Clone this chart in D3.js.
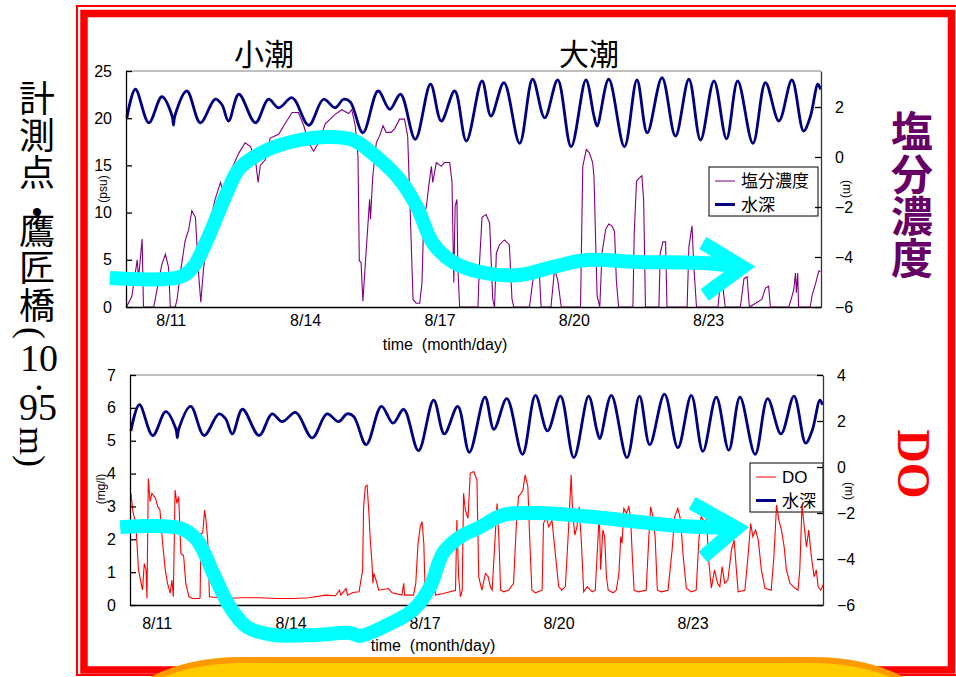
<!DOCTYPE html>
<html>
<head>
<meta charset="utf-8">
<script src="https://cdn.jsdelivr.net/npm/d3@7"></script>
<style>
  body { margin: 0; background: #fff; }
  svg { display: block; }
</style>
</head>
<body>
<svg id="chart" width="956" height="677"></svg>
<script>
// days counted from 8/10 00:00
var dayDomain = [0, 15.52];
var dayTicks = [1, 4, 7, 10, 13];
var dayLabels = ["8/11", "8/14", "8/17", "8/20", "8/23"];

var psuTicks = [0, 5, 10, 15, 20, 25];
var mgTicks = [0, 1, 2, 3, 4, 5, 6, 7];
var depthTicksTop = [-6, -4, -2, 0, 2];
var depthTicksBottom = [-6, -4, -2, 0, 2, 4];

// water depth (m) [day, value]
var depth = [[0.02,1.57],[0.21,2.71],[0.51,1.37],[0.80,2.41],[1.03,1.64],[1.06,1.28],[1.09,1.64],[1.36,2.64],
  [1.66,1.37],[1.99,2.31],[2.14,2.10],[2.29,1.44],[2.52,2.51],[2.89,1.37],[3.18,2.31],[3.41,1.97],[3.71,2.37],
  [4.08,1.27],[4.41,2.31],[4.67,1.97],[4.86,2.31],[5.01,2.20],[5.29,0.97],[5.63,2.64],[5.89,1.91],[6.13,2.51],
  [6.46,0.71],[6.80,2.91],[7.04,1.44],[7.34,2.64],[7.60,0.64],[7.95,3.04],[8.15,1.64],[8.44,2.97],[8.79,0.55],
  [9.08,3.11],[9.35,1.57],[9.64,3.08],[9.94,0.41],[10.27,3.08],[10.45,1.64],[10.52,1.24],[10.78,3.11],[11.13,0.41],
  [11.41,3.08],[11.64,0.97],[11.97,3.17],[12.27,0.84],[12.57,3.11],[12.83,0.68],[13.13,3.04],[13.41,0.73],
  [13.66,3.04],[14.00,0.55],[14.28,2.97],[14.58,1.44],[14.87,3.08],[15.13,1.04],[15.28,1.60],[15.45,2.91],[15.51,2.70]];

// salinity (psu) [day, value]
var salinity = [[0.00,0],[0.02,0.1],[0.13,1.1],[0.25,5.0],[0.28,3.0],[0.36,7.2],[0.39,0],[0.62,0],[0.73,2.8],
  [0.80,4.5],[0.88,5.6],[0.95,4.2],[0.99,0],[1.10,0],[1.14,0.8],[1.25,4.8],[1.32,7.0],[1.40,8.2],[1.47,10.2],
  [1.55,9.5],[1.62,3.6],[1.67,0.5],[1.73,4.0],[1.85,8.5],[1.99,11.4],[2.11,13.2],[2.18,12.0],[2.29,13.9],
  [2.52,16.3],[2.66,17.4],[2.78,17.0],[2.89,15.6],[2.95,13.2],[3.00,15.0],[3.11,15.6],[3.22,17.9],[3.41,18.3],
  [3.56,19.5],[3.71,20.6],[3.85,20.6],[3.97,19.2],[4.08,17.4],[4.19,16.5],[4.30,17.4],[4.45,19.4],[4.67,20.4],
  [4.82,20.9],[4.97,20.5],[5.04,20.9],[5.12,19.2],[5.18,16.0],[5.21,4.9],[5.25,4.7],[5.29,0.6],[5.36,5.7],
  [5.44,11.4],[5.46,9.3],[5.51,13.8],[5.59,17.4],[5.66,18.1],[5.74,19.2],[5.81,18.5],[5.92,18.5],[6.00,18.9],
  [6.11,19.9],[6.22,19.9],[6.29,18.1],[6.35,9.6],[6.41,0.8],[6.48,0.4],[6.56,0.4],[6.61,2.6],[6.65,9.6],
  [6.71,10.7],[6.76,12.8],[6.82,14.9],[6.85,13.2],[6.93,15.3],[7.04,14.9],[7.11,15.3],[7.23,15.3],[7.28,13.2],
  [7.32,2.6],[7.35,10.7],[7.39,11.4],[7.41,4.3],[7.45,0],[7.86,0],[7.89,4.3],[7.95,9.5],[8.04,9.8],[8.12,8.9],
  [8.19,0.8],[8.23,0],[8.27,5.7],[8.34,6.6],[8.45,7.1],[8.56,6.6],[8.62,0.8],[8.66,0],[9.01,0],[9.08,2.6],
  [9.16,4.3],[9.23,3.6],[9.27,0],[9.49,0],[9.57,4.0],[9.64,2.9],[9.72,0],[10.15,0],[10.20,14.9],[10.28,16.7],
  [10.35,16.3],[10.42,15.3],[10.45,13.9],[10.52,1.2],[10.58,0],[10.63,5.7],[10.71,8.2],[10.78,8.8],[10.85,8.6],
  [10.91,8.0],[10.95,2.8],[11.00,0],[11.32,0],[11.35,7.9],[11.40,13.3],[11.45,13.6],[11.52,13.9],[11.56,11.3],
  [11.60,0],[11.90,0],[11.93,5.7],[11.99,6.9],[12.05,6.9],[12.08,0],[12.53,0],[12.57,6.4],[12.64,8.6],[12.68,4.3],
  [12.74,0],[13.22,0],[13.26,2.0],[13.32,2.5],[13.38,0],[13.72,0],[13.80,3.0],[13.87,3.2],[13.92,0],[14.20,0.8],
  [14.28,2.0],[14.35,2.2],[14.39,0],[14.80,0],[14.87,1.1],[14.91,1.8],[14.95,3.6],[14.97,1.5],[15.00,3.6],
  [15.02,0],[15.28,0],[15.32,1.2],[15.40,2.5],[15.47,3.8],[15.51,3.8]];

// dissolved oxygen (mg/l) [day, value]
var dissolvedO2 = [[0.02,3.40],[0.07,2.80],[0.13,2.50],[0.19,1.07],[0.25,0.66],[0.28,0.46],[0.32,1.26],[0.36,1.07],
  [0.38,0.20],[0.41,3.85],[0.45,3.15],[0.49,3.40],[0.57,3.25],[0.62,3.00],[0.67,2.89],[0.73,1.88],[0.79,1.07],
  [0.84,0.66],[0.90,0.36],[0.94,0.76],[0.97,0.25],[1.01,3.50],[1.05,3.09],[1.09,3.30],[1.14,1.57],[1.20,1.50],
  [1.25,0.66],[1.32,0.25],[1.40,0.20],[1.55,0.20],[1.57,0.22],[1.59,2.17],[1.63,2.20],[1.67,2.89],[1.70,2.60],
  [1.74,2.00],[1.76,1.07],[1.78,0.25],[2.15,0.20],[2.50,0.22],[2.90,0.22],[3.30,0.20],[3.64,0.20],[4.00,0.22],
  [4.39,0.30],[4.60,0.28],[4.69,0.45],[4.72,0.30],[4.84,0.50],[4.87,0.30],[4.99,0.38],[5.13,0.40],[5.21,1.07],
  [5.23,2.94],[5.27,3.60],[5.31,3.65],[5.35,2.80],[5.38,2.00],[5.42,1.27],[5.44,0.66],[5.46,0.96],[5.51,0.76],
  [5.57,0.45],[5.79,0.50],[5.87,0.37],[6.09,0.30],[6.13,0.66],[6.15,0.30],[6.35,0.30],[6.40,0.66],[6.45,1.88],
  [6.50,2.38],[6.54,2.54],[6.58,1.88],[6.61,0.35],[6.69,0.30],[6.82,0.86],[6.84,0.30],[7.02,0.35],[7.29,0.45],
  [7.32,2.59],[7.36,0.86],[7.40,0.25],[7.44,0.45],[7.47,3.40],[7.51,2.89],[7.57,2.64],[7.62,4.01],[7.70,4.06],
  [7.77,3.80],[7.81,0.86],[7.88,0.45],[7.96,0.96],[8.02,0.86],[8.07,0.56],[8.11,0.45],[8.17,1.88],[8.22,3.09],
  [8.26,2.08],[8.30,0.45],[8.37,0.40],[8.48,0.45],[8.59,0.66],[8.65,2.38],[8.70,3.30],[8.76,3.40],[8.80,3.50],
  [8.85,3.96],[8.91,3.60],[8.95,2.08],[9.00,0.45],[9.08,0.37],[9.23,0.45],[9.26,2.48],[9.32,2.68],[9.38,2.38],
  [9.45,2.58],[9.51,1.77],[9.60,0.56],[9.67,0.45],[9.75,0.56],[9.82,2.28],[9.88,3.96],[9.91,2.89],[9.96,2.13],
  [10.01,2.38],[10.06,2.99],[10.11,1.88],[10.16,0.40],[10.24,0.56],[10.35,0.40],[10.42,0.45],[10.51,2.79],
  [10.54,1.07],[10.59,2.28],[10.63,2.08],[10.67,0.86],[10.71,0.45],[10.82,0.37],[10.89,0.45],[10.95,0.96],
  [10.99,2.08],[11.02,1.88],[11.06,2.94],[11.12,2.79],[11.17,2.99],[11.21,2.69],[11.25,1.47],[11.29,0.45],
  [11.38,0.40],[11.56,0.45],[11.62,2.08],[11.66,2.99],[11.71,2.69],[11.76,2.08],[11.81,0.45],[11.90,0.40],
  [12.05,0.45],[12.14,1.67],[12.20,2.69],[12.27,2.94],[12.33,2.59],[12.39,1.47],[12.46,0.51],[12.57,0.40],
  [12.68,0.45],[12.74,1.98],[12.79,2.69],[12.86,2.54],[12.91,2.59],[12.96,1.37],[13.02,0.51],[13.09,1.07],
  [13.16,0.66],[13.21,0.56],[13.26,1.17],[13.32,0.66],[13.39,0.76],[13.47,1.67],[13.53,1.98],[13.58,1.07],
  [13.62,0.40],[13.77,0.45],[13.84,1.47],[13.90,2.48],[13.95,2.08],[14.01,2.28],[14.07,1.98],[14.14,1.07],
  [14.22,0.51],[14.36,0.45],[14.42,1.47],[14.48,3.04],[14.53,2.59],[14.59,2.28],[14.65,1.77],[14.70,1.07],
  [14.78,0.66],[14.85,0.56],[14.96,0.45],[15.00,1.07],[15.05,3.04],[15.10,2.38],[15.15,1.77],[15.20,2.28],
  [15.26,1.47],[15.32,0.86],[15.37,1.07],[15.41,0.56],[15.47,0.45],[15.52,0.61]];

// hand drawn trend arrows, in each panel's data units [day, left-axis value]
var saltArrow = [[-0.36,3.07],[1.21,3.18],[1.50,4.24],[1.81,7.10],[2.25,12.08],[2.54,14.72],[3.15,16.63],
  [3.88,17.69],[4.55,18.01],[5.07,17.69],[5.60,15.89],[6.12,13.45],[6.50,10.59],[6.85,6.78],[7.30,4.77],
  [7.90,3.71],[8.79,3.39],[9.53,4.24],[10.29,4.98],[11.41,4.77],[12.88,4.66],[13.77,4.24]];
var saltArrowHead = [[12.88,6.78],[13.77,4.24],[12.92,1.27]];
var doArrow = [[-0.22,2.37],[1.12,2.34],[1.50,1.98],[1.86,0.97],[2.24,-0.06],[2.62,-0.67],[3.20,-0.91],
  [4.19,-0.91],[4.93,-0.85],[5.15,-0.94],[5.67,-0.67],[6.34,-0.15],[6.72,0.55],[7.01,1.58],[7.39,2.07],
  [7.84,2.37],[8.35,2.74],[9.12,2.80],[10.59,2.65],[12.09,2.43],[13.59,2.34]];
var doArrowHead = [[12.59,3.10],[13.59,2.34],[12.83,1.46]];

var sans = "'Liberation Sans', Arial, sans-serif";
var cjk = "'Noto Sans CJK JP', 'Noto Sans CJK SC', sans-serif";
var serif = "'Liberation Serif', 'DejaVu Serif', serif";

var svg = d3.select("#chart");
svg.append("rect").attr("width", 956).attr("height", 677).attr("fill", "#fff");

// red slide frame
svg.append("rect").attr("x", 77).attr("y", 6).attr("width", 890).attr("height", 669)
  .attr("fill", "none").attr("stroke", "#ff0000").attr("stroke-width", 2);
svg.append("rect").attr("x", 84).attr("y", 13.5).attr("width", 867.5).attr("height", 656.5)
  .attr("fill", "none").attr("stroke", "#ff0000").attr("stroke-width", 7.5);

function drawPanel(p) {
  var x = d3.scaleLinear().domain(dayDomain).range([p.left, p.right]);
  var yL = d3.scaleLinear().domain(p.leftDomain).range([p.bottom, p.top]);
  var yR = d3.scaleLinear().domain(p.rightDomain).range([p.bottom, p.top]);
  var g = svg.append("g");

  // top border
  g.append("line").attr("x1", p.left).attr("x2", p.right).attr("y1", p.top).attr("y2", p.top)
    .attr("stroke", "#808080").attr("stroke-width", 1);

  // legend box (series go over it)
  var lg = g.append("g").attr("transform", "translate(" + p.legend.x + "," + p.legend.y + ")");
  lg.append("rect").attr("width", p.legend.w).attr("height", 49)
    .attr("fill", "#fff").attr("stroke", "#000").attr("stroke-width", 1);
  p.legend.items.forEach(function(it, i) {
    var yy = 14 + i * 23.5;
    lg.append("line").attr("x1", 6).attr("x2", 26).attr("y1", yy).attr("y2", yy)
      .attr("stroke", it.color).attr("stroke-width", it.width);
    lg.append("text").attr("x", 32).attr("y", yy).attr("dy", "0.36em")
      .attr("font-family", it.font).attr("font-size", 17).text(it.label);
  });

  var line = d3.line().x(function(d) { return x(d[0]); });

  g.append("path").datum(p.series)
    .attr("d", line.y(function(d) { return yL(d[1]); }).curve(d3.curveLinear))
    .attr("fill", "none").attr("stroke", p.seriesColor).attr("stroke-width", 1.1);

  g.append("path").datum(depth)
    .attr("d", line.y(function(d) { return yR(d[1]); }).curve(d3.curveCatmullRom))
    .attr("fill", "none").attr("stroke", "#000080").attr("stroke-width", 2.8)
    .attr("stroke-linejoin", "round");

  var ax = g.append("g").attr("transform", "translate(" + p.left + ",0)")
    .call(d3.axisLeft(yL).tickValues(p.leftTicks).tickFormat(d3.format("d"))
      .tickSizeInner(-6).tickSizeOuter(0).tickPadding(14));
  var ar = g.append("g").attr("transform", "translate(" + p.right + ",0)")
    .call(d3.axisRight(yR).tickValues(p.rightTicks).tickFormat(d3.format("d"))
      .tickSizeInner(-6).tickSizeOuter(0).tickPadding(14));
  var ab = g.append("g").attr("transform", "translate(0," + p.bottom + ")")
    .call(d3.axisBottom(x).tickValues(dayTicks).tickFormat(function(d, i) { return dayLabels[i]; })
      .tickSize(0).tickPadding(p.xPad));
  ab.selectAll("text").attr("dx", p.labelShift);
  [ax, ar, ab].forEach(function(a) {
    a.attr("font-size", 16).attr("font-family", sans);
    a.selectAll("path, line").attr("stroke", "#000").attr("stroke-width", 1.3);
  });
  ar.select(".domain").attr("stroke", "#333");

  g.append("text").attr("x", p.timeX).attr("y", p.timeY).attr("dy", "0.35em")
    .attr("text-anchor", "middle").attr("font-family", sans).attr("font-size", 16)
    .text("time\u00a0\u00a0(month/day)");
  g.append("text").attr("transform", "translate(" + p.unitL[0] + "," + p.unitL[1] + ") rotate(-90)")
    .attr("text-anchor", "middle").attr("dy", "0.35em").attr("font-family", sans).attr("font-size", 12)
    .text(p.unitLabel);
  g.append("text").attr("transform", "translate(" + p.unitR[0] + "," + p.unitR[1] + ") rotate(90)")
    .attr("text-anchor", "middle").attr("dy", "0.35em").attr("font-family", sans).attr("font-size", 12)
    .text("(m)");

  return { x: x, y: yL };
}

var topPanel = drawPanel({
  left: 126, right: 821, top: 71, bottom: 307,
  leftDomain: [0, 25], rightDomain: [-6, 3.44],
  leftTicks: psuTicks, rightTicks: depthTicksTop,
  series: salinity, seriesColor: "#800080",
  xPad: 8, labelShift: 0, timeX: 445, timeY: 344,
  unitLabel: "(psu)", unitL: [103, 189], unitR: [847, 189],
  legend: { x: 709, y: 167, w: 109, items: [
    { label: "塩分濃度", color: "#800080", width: 1, font: cjk },
    { label: "水深", color: "#000080", width: 3, font: cjk }] }
});

var bottomPanel = drawPanel({
  left: 130, right: 823, top: 375, bottom: 605,
  leftDomain: [0, 7], rightDomain: [-6, 4],
  leftTicks: mgTicks, rightTicks: depthTicksBottom,
  series: dissolvedO2, seriesColor: "#ff0000",
  xPad: 13, labelShift: -18, timeX: 433, timeY: 645,
  unitLabel: "(mg/l)", unitL: [101, 489], unitR: [849, 491],
  legend: { x: 750, y: 463, w: 73, items: [
    { label: "DO", color: "#ff0000", width: 1, font: sans },
    { label: "水深", color: "#000080", width: 3, font: cjk }] }
});

// tide titles
svg.append("text").attr("x", 264).attr("y", 54).attr("dy", "0.36em").attr("text-anchor", "middle")
  .attr("font-family", cjk).attr("font-size", 30).text("小潮");
svg.append("text").attr("x", 589).attr("y", 54).attr("dy", "0.36em").attr("text-anchor", "middle")
  .attr("font-family", cjk).attr("font-size", 30).text("大潮");

// cyan arrows
function arrow(panel, shaft, head) {
  var l = d3.line().x(function(d) { return panel.x(d[0]); }).y(function(d) { return panel.y(d[1]); });
  svg.append("path").datum(shaft).attr("d", l.curve(d3.curveCatmullRom))
    .attr("fill", "none").attr("stroke", "#00ffff").attr("stroke-width", 14);
  svg.append("path").datum(head).attr("d", l.curve(d3.curveLinear))
    .attr("fill", "none").attr("stroke", "#00ffff").attr("stroke-width", 14)
    .attr("stroke-linejoin", "miter");
}
arrow(topPanel, saltArrow, saltArrowHead);
arrow(bottomPanel, doArrow, doArrowHead);

// yellow box at the bottom
svg.append("rect").attr("x", 112).attr("y", 660).attr("width", 830).attr("height", 140)
  .attr("rx", 130).attr("ry", 70)
  .attr("fill", "#ffcc00").attr("stroke", "#ff9900").attr("stroke-width", 6);

// left caption, vertical
var leftGlyphs = [
  { t: "計", x: 37, y: 99, f: cjk, s: 36, r: 0 },
  { t: "測", x: 37, y: 136, f: cjk, s: 36, r: 0 },
  { t: "点", x: 37, y: 173, f: cjk, s: 36, r: 0 },
  { t: "•", x: 37, y: 211, f: sans, s: 30, r: 0 },
  { t: "鷹", x: 37, y: 231, f: cjk, s: 36, r: 0 },
  { t: "匠", x: 37, y: 268, f: cjk, s: 36, r: 0 },
  { t: "橋", x: 37, y: 306, f: cjk, s: 36, r: 0 },
  { t: "(", x: 33, y: 333, f: serif, s: 36, r: 90 },
  { t: "10", x: 39, y: 357, f: serif, s: 38, r: 0 },
  { t: ".", x: 39, y: 376, f: serif, s: 38, r: 0 },
  { t: "95", x: 38, y: 406, f: serif, s: 38, r: 0 },
  { t: "m)", x: 33, y: 447, f: serif, s: 36, r: 90 }
];
leftGlyphs.forEach(function(c) {
  svg.append("text").attr("transform", "translate(" + c.x + "," + c.y + ") rotate(" + c.r + ")")
    .attr("text-anchor", "middle").attr("dy", "0.36em")
    .attr("font-family", c.f).attr("font-size", c.s).attr("fill", "#000").text(c.t);
});

// right captions
svg.append("text").attr("x", 912).attr("y", 195)
  .style("writing-mode", "vertical-rl")
  .attr("text-anchor", "middle").attr("font-family", cjk).attr("font-weight", "bold")
  .attr("font-size", 42).attr("letter-spacing", 0.3).attr("fill", "#660066").text("塩分濃度");
svg.append("text").attr("transform", "translate(914,464) rotate(90)")
  .attr("text-anchor", "middle").attr("dy", "0.35em")
  .attr("font-family", serif).attr("font-weight", "bold").attr("font-size", 46)
  .attr("fill", "#ff0000").text("DO");
</script>
</body>
</html>
